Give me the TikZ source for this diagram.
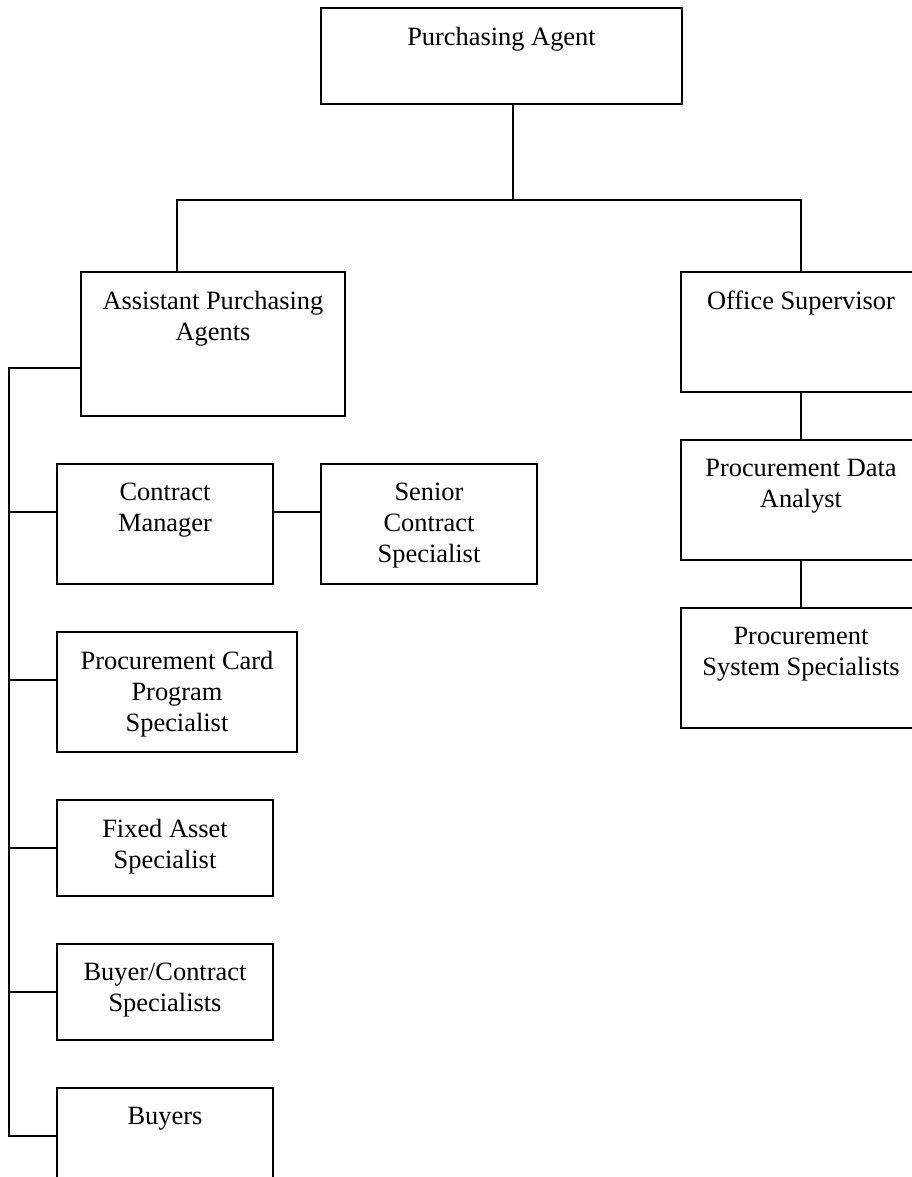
\documentclass[tikz,border=0pt]{standalone}
\usepackage{fontspec}
\setmainfont{Liberation Serif}
\usetikzlibrary{positioning}

\tikzset{
  post/.style={draw, line width=0.7pt, anchor=north west, inner sep=0pt, outer sep=0pt},
  title/.style={font=\fontsize{13.2}{15.5}\selectfont, align=center, inner sep=0pt},
  link/.style={line width=0.6pt},
}

\begin{document}
\begin{tikzpicture}[x=0.5pt, y=-0.5pt]
\useasboundingbox (0,0) rectangle (911,1177);

% boxes
\node[post, minimum width=180.5pt, minimum height=48pt] (agent) at (321,8) {};
\node[post, minimum width=132pt, minimum height=72pt] (asst) at (81,272) {};
\node[post, minimum width=120pt, minimum height=60pt] (office) at (681,272) {};
\node[post, minimum width=120pt, minimum height=60pt] (analyst) at (681,440) {};
\node[post, minimum width=120pt, minimum height=60pt] (sysspec) at (681,608) {};
\node[post, minimum width=108pt, minimum height=60pt] (cm) at (57,464) {};
\node[post, minimum width=108pt, minimum height=60pt] (senior) at (321,464) {};
\node[post, minimum width=120pt, minimum height=60pt] (card) at (57,632) {};
\node[post, minimum width=108pt, minimum height=48pt] (fixed) at (57,800) {};
\node[post, minimum width=108pt, minimum height=48pt] (bcs) at (57,944) {};
\node[post, minimum width=108pt, minimum height=48pt] (buyers) at (57,1088) {};

% captions
\node[title, below=9.2pt of agent.north] (agent-t) {Purchasing Agent};
\node[title, below=9.2pt of asst.north] (asst-t) {Assistant Purchasing\\Agents};
\node[title, below=9.2pt of office.north] (office-t) {Office Supervisor};
\node[title, below=9.2pt of analyst.north] (analyst-t) {Procurement Data\\Analyst};
\node[title, below=9.2pt of sysspec.north] (sysspec-t) {Procurement\\System Specialists};
\node[title, below=9.2pt of cm.north] (cm-t) {Contract\\Manager};
\node[title, below=9.2pt of senior.north] (senior-t) {Senior\\Contract\\Specialist};
\node[title, below=9.2pt of card.north] (card-t) {Procurement Card\\Program\\Specialist};
\node[title, below=9.2pt of fixed.north] (fixed-t) {Fixed Asset\\Specialist};
\node[title, below=9.2pt of bcs.north] (bcs-t) {Buyer/Contract\\Specialists};
\node[title, below=9.2pt of buyers.north] (buyers-t) {Buyers};

% lines
\coordinate (split) at (513,200);
\coordinate (lbar) at (177,200);
\coordinate (rbar) at (801,200);
\coordinate (trunk) at (9,368);
\coordinate (cm-in) at ([yshift=6pt]cm.west);
\coordinate (card-in) at ([yshift=6pt]card.west);

\draw[link] (agent.south -| split) -- (split);
\draw[link] (asst.north -| lbar) -- (lbar) -- (rbar) -- (office.north);
\draw[link] (office.south) -- (analyst.north);
\draw[link] (analyst.south) -- (sysspec.north);

\draw[link] (asst.west |- trunk) -- (trunk) |- (buyers.west);
\draw[link] (cm-in) -- (cm-in -| trunk);
\draw[link] (cm-in -| cm.east) -- (cm-in -| senior.west);
\draw[link] (card-in) -- (card-in -| trunk);
\draw[link] (fixed.west) -- (fixed.west -| trunk);
\draw[link] (bcs.west) -- (bcs.west -| trunk);
\end{tikzpicture}
\end{document}
